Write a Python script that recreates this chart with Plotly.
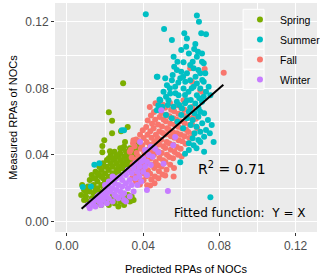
import plotly.graph_objects as go

# ---------------- data ----------------
spring_x = [0.0075, 0.009, 0.008, 0.010, 0.011, 0.012, 0.012, 0.013, 0.014, 0.014, 0.015, 0.015, 0.016, 0.016,
            0.017, 0.017, 0.018, 0.018, 0.019, 0.019, 0.020, 0.020, 0.021, 0.021, 0.022, 0.022, 0.023, 0.023,
            0.024, 0.024, 0.025, 0.025, 0.026, 0.026, 0.027, 0.027, 0.028, 0.028, 0.029, 0.029, 0.030, 0.030,
            0.031, 0.031, 0.032, 0.033, 0.033, 0.034, 0.035, 0.035, 0.036, 0.037, 0.034, 0.032, 0.013, 0.011,
            0.015, 0.017, 0.019, 0.021, 0.023, 0.025, 0.027, 0.029, 0.031, 0.018, 0.020, 0.022, 0.024, 0.026,
            0.028, 0.030, 0.016, 0.014, 0.012, 0.010, 0.009,
            0.015, 0.017, 0.019, 0.020, 0.022, 0.023, 0.024, 0.025, 0.026, 0.027, 0.028, 0.029, 0.030, 0.031,
            0.032, 0.033, 0.034, 0.035, 0.021, 0.018,
            0.0295, 0.022, 0.0237, 0.0237, 0.0284, 0.0319, 0.0196, 0.0186, 0.0186, 0.0305, 0.0226, 0.034,
            0.036, 0.038]
spring_y = [0.016, 0.019, 0.022, 0.015, 0.021, 0.018, 0.025, 0.028, 0.022, 0.017, 0.026, 0.030, 0.020, 0.024,
            0.033, 0.028, 0.022, 0.031, 0.026, 0.035, 0.029, 0.024, 0.033, 0.037, 0.027, 0.031, 0.035, 0.040,
            0.029, 0.033, 0.037, 0.042, 0.031, 0.035, 0.039, 0.033, 0.037, 0.041, 0.035, 0.044, 0.039, 0.034,
            0.042, 0.037, 0.040, 0.044, 0.038, 0.041, 0.043, 0.039, 0.041, 0.044, 0.036, 0.035, 0.014, 0.012,
            0.019, 0.018, 0.021, 0.025, 0.026, 0.028, 0.030, 0.032, 0.034, 0.027, 0.033, 0.038, 0.038, 0.040,
            0.044, 0.045, 0.029, 0.026, 0.021, 0.018, 0.013,
            0.011, 0.013, 0.012, 0.015, 0.010, 0.013, 0.016, 0.011, 0.014, 0.009, 0.012, 0.015, 0.010, 0.013,
            0.016, 0.012, 0.015, 0.013, 0.012, 0.010,
            0.083, 0.0657, 0.0605, 0.053, 0.0543, 0.0568, 0.0488, 0.0454, 0.0417, 0.0478, 0.0423, 0.0127,
            0.046, 0.047]

summer_x = [0.0414, 0.0682, 0.0693, 0.0510, 0.0616, 0.0705, 0.0730, 0.0551, 0.0630, 0.0674, 0.0668, 0.0626,
            0.0472, 0.0682, 0.0709, 0.0560, 0.0612, 0.0688, 0.0709, 0.0718, 0.0647, 0.0563, 0.0577, 0.0665,
            0.0630, 0.0700, 0.0726, 0.0475, 0.0516, 0.0551, 0.0595, 0.0621, 0.0647, 0.0682, 0.0718, 0.0525,
            0.0568, 0.0612, 0.0665, 0.0700, 0.0744, 0.0507, 0.0542, 0.0586, 0.0638, 0.0682, 0.0718, 0.0753,
            0.0533, 0.0577, 0.0630, 0.0674, 0.0709, 0.0560, 0.0604, 0.0647, 0.0691,
            0.0490, 0.0472, 0.0500, 0.0520, 0.0540, 0.0555, 0.0585, 0.0600, 0.0620, 0.0655, 0.0675, 0.0695,
            0.0730, 0.0710, 0.0650, 0.0590, 0.0620, 0.0670, 0.0700, 0.0640, 0.0570, 0.0530, 0.0610, 0.0690,
            0.0660, 0.0580, 0.0640, 0.0600,
            0.0600, 0.0630, 0.0660, 0.0690, 0.0720, 0.0650, 0.0680, 0.0710, 0.0740, 0.0670, 0.0700, 0.0730,
            0.0660, 0.0690, 0.0720, 0.0640, 0.0700, 0.0770, 0.0665, 0.0620, 0.0595, 0.0640, 0.0680, 0.0750,
            0.0760, 0.0610, 0.0580, 0.0550, 0.0520, 0.0753, 0.0720,
            0.0144, 0.0170, 0.0083, 0.0126, 0.0288, 0.0300, 0.0486, 0.0480]
summer_y = [0.1245, 0.1237, 0.1200, 0.1157, 0.1131, 0.1131, 0.1125, 0.1090, 0.1100, 0.1066, 0.1036, 0.1050,
            0.0869, 0.0990, 0.1010, 0.0990, 0.0956, 0.1020, 0.0960, 0.0950, 0.0940, 0.0930, 0.0910, 0.0920,
            0.0890, 0.0890, 0.0890, 0.0869, 0.0860, 0.0849, 0.0860, 0.0839, 0.0849, 0.0829, 0.0839, 0.0819,
            0.0809, 0.0799, 0.0809, 0.0799, 0.0809, 0.0779, 0.0769, 0.0759, 0.0779, 0.0759, 0.0749, 0.0759,
            0.0729, 0.0719, 0.0729, 0.0709, 0.0719, 0.0689, 0.0679, 0.0685, 0.0679,
            0.0729, 0.0669, 0.0690, 0.0750, 0.0800, 0.0880, 0.0835, 0.0900, 0.0760, 0.0800, 0.0870, 0.0740,
            0.0780, 0.0850, 0.0730, 0.0700, 0.0710, 0.0650, 0.0660, 0.0660, 0.0770, 0.0700, 0.0870, 0.0910,
            0.0960, 0.0960, 0.1010, 0.1030,
            0.0640, 0.0620, 0.0610, 0.0630, 0.0650, 0.0580, 0.0570, 0.0590, 0.0610, 0.0530, 0.0540, 0.0550,
            0.0500, 0.0490, 0.0510, 0.0470, 0.0478, 0.0478, 0.0458, 0.0408, 0.0357, 0.0430, 0.0440, 0.0530,
            0.0580, 0.0560, 0.0600, 0.0620, 0.0640, 0.0146, 0.0420,
            0.0341, 0.0351, 0.0207, 0.0211, 0.0548, 0.0548, 0.0733, 0.0699]

fall_x = [0.0342, 0.0338, 0.0345, 0.0340, 0.0336, 0.0347,
          0.0362, 0.0357, 0.0365, 0.0359, 0.0366, 0.0355, 0.0363,
          0.0383, 0.0378, 0.0386, 0.0380, 0.0375, 0.0387, 0.0379, 0.0384,
          0.0402, 0.0397, 0.0405, 0.0399, 0.0406, 0.0395, 0.0403, 0.0398,
          0.0421, 0.0417, 0.0425, 0.0419, 0.0414, 0.0426, 0.0418, 0.0423, 0.0416, 0.0424,
          0.0443, 0.0437, 0.0446, 0.0439, 0.0445, 0.0436, 0.0444, 0.0438, 0.0447, 0.0441, 0.0435,
          0.0462, 0.0458, 0.0466, 0.0457, 0.0464, 0.0459, 0.0467, 0.0455, 0.0463, 0.0457, 0.0465,
          0.0483, 0.0477, 0.0486, 0.0479, 0.0484, 0.0476, 0.0485, 0.0478, 0.0487, 0.0481,
          0.0502, 0.0497, 0.0505, 0.0498, 0.0506, 0.0495, 0.0503, 0.0499, 0.0507, 0.0496, 0.0504,
          0.0523, 0.0517, 0.0525, 0.0516, 0.0524, 0.0518, 0.0526, 0.0519, 0.0522, 0.0515,
          0.0542, 0.0537, 0.0545, 0.0538, 0.0546, 0.0535, 0.0543, 0.0539, 0.0547, 0.0541,
          0.0562, 0.0557, 0.0565, 0.0558, 0.0564, 0.0556, 0.0566, 0.0559, 0.0563,
          0.0583, 0.0577, 0.0586, 0.0578, 0.0584, 0.0576, 0.0585, 0.0579,
          0.0602, 0.0597, 0.0605, 0.0598, 0.0604, 0.0596, 0.0606, 0.0599,
          0.0623, 0.0617, 0.0625, 0.0618, 0.0624, 0.0616, 0.0622,
          0.0642, 0.0637, 0.0645, 0.0638, 0.0644,
          0.0662, 0.0657, 0.0665, 0.0658,
          0.0683, 0.0677,
          0.0437, 0.0516, 0.0647, 0.0723, 0.0656, 0.0612, 0.0709, 0.0823, 0.0700, 0.0480, 0.0460,
          0.0349, 0.0330, 0.0560]
fall_y = [0.0260, 0.0305, 0.0345, 0.0385, 0.0432, 0.0470,
          0.0242, 0.0283, 0.0327, 0.0371, 0.0412, 0.0452, 0.0493,
          0.0222, 0.0268, 0.0312, 0.0353, 0.0391, 0.0438, 0.0483, 0.0521,
          0.0248, 0.0292, 0.0334, 0.0372, 0.0413, 0.0458, 0.0502, 0.0548,
          0.0218, 0.0272, 0.0309, 0.0352, 0.0393, 0.0431, 0.0478, 0.0522, 0.0568, 0.0607,
          0.0252, 0.0288, 0.0341, 0.0379, 0.0422, 0.0461, 0.0503, 0.0542, 0.0588, 0.0637, 0.0688,
          0.0271, 0.0322, 0.0358, 0.0402, 0.0441, 0.0483, 0.0522, 0.0561, 0.0612, 0.0658, 0.0711,
          0.0302, 0.0338, 0.0382, 0.0421, 0.0463, 0.0502, 0.0541, 0.0583, 0.0628, 0.0679,
          0.0283, 0.0331, 0.0368, 0.0412, 0.0452, 0.0491, 0.0532, 0.0571, 0.0613, 0.0652, 0.0702,
          0.0312, 0.0358, 0.0401, 0.0442, 0.0478, 0.0523, 0.0561, 0.0602, 0.0641, 0.0683,
          0.0342, 0.0388, 0.0432, 0.0469, 0.0512, 0.0551, 0.0588, 0.0632, 0.0671, 0.0712,
          0.0322, 0.0381, 0.0418, 0.0462, 0.0503, 0.0538, 0.0582, 0.0621, 0.0662,
          0.0402, 0.0448, 0.0488, 0.0531, 0.0569, 0.0612, 0.0648, 0.0698,
          0.0391, 0.0438, 0.0482, 0.0521, 0.0559, 0.0602, 0.0641, 0.0683,
          0.0468, 0.0512, 0.0552, 0.0591, 0.0633, 0.0672, 0.0718,
          0.0502, 0.0538, 0.0581, 0.0622, 0.0661,
          0.0528, 0.0583, 0.0628, 0.0688,
          0.0562, 0.0618,
          0.0217, 0.0277, 0.0920, 0.0916, 0.0839, 0.0729, 0.0779, 0.0893, 0.0789, 0.0260, 0.0230,
          0.0488, 0.0420, 0.0270]

winter_x = [0.011, 0.012, 0.013, 0.014, 0.015, 0.015, 0.016, 0.017, 0.017, 0.018, 0.018, 0.019, 0.019, 0.020,
            0.020, 0.021, 0.021, 0.022, 0.022, 0.023, 0.023, 0.024, 0.024, 0.025, 0.025, 0.026, 0.026, 0.027,
            0.027, 0.028, 0.028, 0.029, 0.029, 0.030, 0.030, 0.031, 0.031, 0.032, 0.032, 0.033, 0.033, 0.034,
            0.034, 0.035, 0.035, 0.036, 0.036, 0.037, 0.037, 0.038, 0.038, 0.039, 0.039, 0.040, 0.040, 0.041,
            0.042, 0.042, 0.043, 0.044, 0.045, 0.024, 0.022, 0.020, 0.026, 0.029, 0.031,
            0.0384, 0.0495, 0.0480, 0.0507, 0.0420, 0.0530, 0.0463, 0.0558, 0.0568, 0.0440, 0.0410]
winter_y = [0.010, 0.008, 0.012, 0.010, 0.013, 0.009, 0.015, 0.012, 0.016, 0.014, 0.010, 0.017, 0.013, 0.019,
            0.015, 0.011, 0.017, 0.021, 0.014, 0.018, 0.024, 0.012, 0.020, 0.016, 0.023, 0.019, 0.026, 0.014,
            0.022, 0.018, 0.027, 0.021, 0.025, 0.013, 0.017, 0.023, 0.028, 0.020, 0.031, 0.015, 0.025, 0.029,
            0.022, 0.032, 0.018, 0.026, 0.035, 0.022, 0.030, 0.033, 0.027, 0.036, 0.024, 0.030, 0.038, 0.033,
            0.028, 0.036, 0.040, 0.034, 0.039, 0.027, 0.024, 0.022, 0.015, 0.016, 0.012,
            0.0478, 0.0669, 0.0417, 0.0348, 0.0190, 0.0183, 0.0438, 0.0458, 0.0508, 0.0450, 0.0430]

fit_x = [0.0077, 0.0821]
fit_y = [0.0077, 0.0821]

seasons = ["Spring", "Summer", "Fall", "Winter"]
colors = {"Spring": "#7CAE00", "Summer": "#00BFC4", "Fall": "#F8766D", "Winter": "#C77CFF"}
series = {"Spring": (spring_x, spring_y), "Summer": (summer_x, summer_y),
          "Fall": (fall_x, fall_y), "Winter": (winter_x, winter_y)}
draw_order = ["Spring", "Fall", "Summer", "Winter"]

x_ticks = [0.0, 0.04, 0.08, 0.12]
x_tick_text = ["0.00", "0.04", "0.08", "0.12"]
y_ticks = [0.0, 0.04, 0.08, 0.12]
y_tick_text = ["0.00", "0.04", "0.08", "0.12"]
minor_ticks = [0.02, 0.06, 0.10]

# ---------------- figure ----------------
fig = go.Figure()
for s in draw_order:
    xs, ys = series[s]
    fig.add_trace(go.Scatter(
        x=xs, y=ys, mode="markers", name=s, legendrank=seasons.index(s) + 1,
        legendgroup=s,
        marker=dict(color=colors[s], size=6, line=dict(width=0)),
    ))

fig.add_trace(go.Scatter(x=fit_x, y=fit_y, mode="lines", showlegend=False,
                         line=dict(color="black", width=2)))

tick_font = dict(family="Liberation Sans, Arial, sans-serif", size=12, color="#4D4D4D")
title_font = dict(family="Liberation Sans, Arial, sans-serif", size=11, color="black")

axis_common = dict(
    showgrid=True, gridcolor="white", gridwidth=1.1,
    zeroline=False, showline=False, automargin=False,
    ticks="outside", ticklen=3, tickwidth=1, tickcolor="#333333",
    tickfont=tick_font,
    minor=dict(tickvals=minor_ticks, showgrid=True, gridcolor="white", gridwidth=0.5, ticks=""),
)

# legend key boxes (ggplot style), in paper coordinates of the plot area
key_x0, key_x1 = 0.718, 0.798
key_rows = [0.9725, 0.8852, 0.7978, 0.7105, 0.6231]
shapes = []
for i in range(4):
    shapes.append(dict(type="rect", xref="paper", yref="paper", layer="above",
                       x0=key_x0, x1=key_x1, y0=key_rows[i + 1], y1=key_rows[i],
                       fillcolor="#F2F2F2", line=dict(color="white", width=1)))

fig.update_layout(
    width=345, height=275,
    margin=dict(l=55, r=28, t=3, b=43, autoexpand=False),
    paper_bgcolor="white", plot_bgcolor="#EBEBEB",
    xaxis=dict(range=[-0.00625, 0.13125], tickvals=x_ticks, ticktext=x_tick_text,
               title=dict(text="Predicted RPAs of NOCs", font=title_font, standoff=12), **axis_common),
    yaxis=dict(range=[-0.00625, 0.13125], tickvals=y_ticks, ticktext=y_tick_text,
               title=dict(text="Measured RPAs of NOCs", font=title_font, standoff=5), **axis_common),
    legend=dict(x=0.706, y=0.991, xanchor="left", yanchor="top",
                bgcolor="rgba(0,0,0,0)", borderwidth=0, tracegroupgap=1,
                traceorder="grouped",
                font=dict(family="Liberation Sans, Arial, sans-serif", size=10.5, color="black")),
    showlegend=True,
    shapes=shapes,
)

fig.add_annotation(x=0.0679, y=0.032, xref="x", yref="y", xanchor="left", yanchor="middle",
                   text="R<sup>2</sup> = 0.71", showarrow=False,
                   font=dict(family="DejaVu Sans", size=14, color="black"))
fig.add_annotation(x=0.0553, y=0.0050, xref="x", yref="y", xanchor="left", yanchor="middle",
                   text="Fitted function:\u00a0 Y = X", showarrow=False,
                   font=dict(family="DejaVu Sans", size=12, color="black"))

fig.write_html("out.html", config={"displayModeBar": False},
               post_script="document.body.style.margin='0'; document.body.style.overflow='hidden';")
